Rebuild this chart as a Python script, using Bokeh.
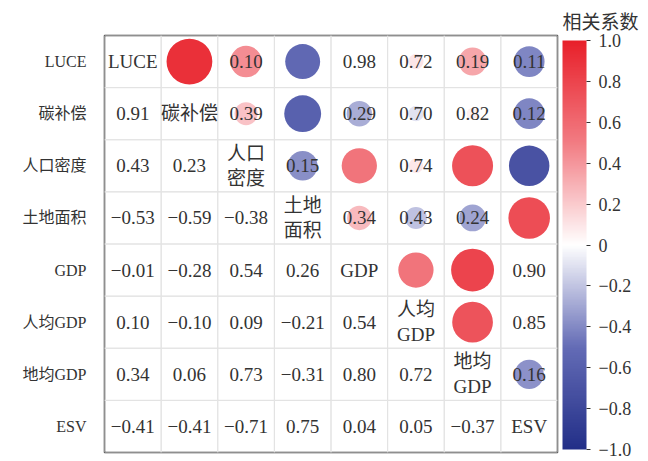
import math
from bokeh.plotting import figure
from bokeh.models import (ColumnDataSource, FactorRange, LinearColorMapper, ColorBar,
                          FixedTicker, Title)
from bokeh.core.properties import value
from bokeh.embed import file_html
from bokeh.resources import INLINE

names = ["LUCE", "碳补偿", "人口密度", "土地面积", "GDP", "人均GDP", "地均GDP", "ESV"]
diag_labels = ["LUCE", "碳补偿", "人口\n密度", "土地\n面积", "GDP", "人均\nGDP", "地均\nGDP", "ESV"]

# lower triangle correlation coefficients: row i holds columns 0..i-1
r_rows = [
    [],
    [0.91],
    [0.43, 0.23],
    [-0.53, -0.59, -0.38],
    [-0.01, -0.28, 0.54, 0.26],
    [0.10, -0.10, 0.09, -0.21, 0.54],
    [0.34, 0.06, 0.73, -0.31, 0.80, 0.72],
    [-0.41, -0.41, -0.71, 0.75, 0.04, 0.05, -0.37],
]
# p-values printed in the upper triangle (None = not printed): row i holds columns i+1..7
p_rows = [
    [None, 0.10, None, 0.98, 0.72, 0.19, 0.11],
    [0.39, None, 0.29, 0.70, 0.82, 0.12],
    [0.15, None, 0.74, None, None],
    [0.34, 0.43, 0.24, None],
    [None, None, 0.90],
    [None, 0.85],
    [0.16],
    [],
]
cbar_ticks = [-1.0, -0.8, -0.6, -0.4, -0.2, 0.0, 0.2, 0.4, 0.6, 0.8, 1.0]
cbar_labels = ["−1.0", "−0.8", "−0.6", "−0.4", "−0.2", "0", "0.2", "0.4", "0.6", "0.8", "1.0"]
cbar_title = "相关系数"

SERIF = "Liberation Serif, Noto Sans CJK SC"
TXT = "#333333"


def fmt(v):
    return f"{v:.2f}".replace("-", "−")


# colour palette: piecewise blue -> white -> red
def hex2rgb(h):
    return tuple(int(h[k:k + 2], 16) for k in (1, 3, 5))


stops = [(-1.0, "#232f88"), (-0.5, "#646cb6"), (0.0, "#ffffff"), (0.5, "#f27c83"), (1.0, "#e8202a")]
palette = []
for i in range(256):
    v = -1 + 2 * i / 255
    for (v0, c0), (v1, c1) in zip(stops[:-1], stops[1:]):
        if v0 <= v <= v1:
            t = (v - v0) / (v1 - v0)
            a, b = hex2rgb(c0), hex2rgb(c1)
            palette.append("#%02x%02x%02x" % tuple(round(a[k] + (b[k] - a[k]) * t) for k in range(3)))
            break
mapper = LinearColorMapper(palette=palette, low=-1, high=1)

# sources
cells = dict(x=[], y=[])
low = dict(x=[], y=[], text=[])
circ = dict(x=[], y=[], r=[], size=[])
ptxt = dict(x=[], y=[], text=[])
for i in range(8):
    for j in range(8):
        cells["x"].append(names[j])
        cells["y"].append(names[i])
for i, row in enumerate(r_rows):
    for j, r in enumerate(row):
        low["x"].append(names[j]); low["y"].append(names[i]); low["text"].append(fmt(r))
        circ["x"].append(names[i]); circ["y"].append(names[j]); circ["r"].append(r)
        circ["size"].append(48 * math.sqrt(abs(r)))
for i, row in enumerate(p_rows):
    for k, pv in enumerate(row):
        if pv is not None:
            ptxt["x"].append(names[i + 1 + k]); ptxt["y"].append(names[i]); ptxt["text"].append(fmt(pv))
diag = dict(x=names, y=names, text=diag_labels)

p = figure(width=648, height=461, output_backend="svg", toolbar_location=None,
           x_range=FactorRange(*names), y_range=FactorRange(*names[::-1]),
           min_border_left=104, min_border_top=35, min_border_bottom=9, min_border_right=91)
p.xaxis.visible = False
p.xgrid.grid_line_color = None
p.ygrid.grid_line_color = None
p.outline_line_color = "#3a3a3a"
p.outline_line_width = 1.5
p.outline_line_alpha = 1

yax = p.yaxis[0]
yax.axis_line_color = None
yax.major_tick_line_color = None
yax.major_tick_out = 0
yax.major_label_standoff = 18
yax.major_label_text_font = SERIF
yax.major_label_text_font_size = "16px"
yax.major_label_text_color = TXT

p.rect(x="x", y="y", width=1, height=1, source=ColumnDataSource(cells),
       fill_color=None, line_color="#e3e3e3", line_width=1)
p.scatter(x="x", y="y", size="size", source=ColumnDataSource(circ),
          fill_color={"field": "r", "transform": mapper}, line_color=None)
for src in (low, ptxt, diag):
    p.text(x="x", y="y", text="text", source=ColumnDataSource(src),
           text_align="center", text_baseline="middle", text_font=value(SERIF),
           text_font_size="19px", text_color=TXT, text_line_height=1.2)

cb = ColorBar(color_mapper=mapper, ticker=FixedTicker(ticks=cbar_ticks),
              major_label_overrides=dict(zip(cbar_ticks, cbar_labels)),
              width=24, height=409, location="top_left", padding=5, margin=0,
              major_label_text_font=SERIF, major_label_text_font_size="18px",
              major_label_text_color=TXT, major_tick_line_color="#333333",
              major_tick_out=4, major_tick_in=0, label_standoff=8,
              bar_line_color=None, border_line_color=None, background_fill_color=None)
p.add_layout(cb, "right")

p.add_layout(Title(text=cbar_title, align="right", offset=-81, standoff=5,
                   text_font=SERIF, text_font_size="19px", text_font_style="normal",
                   text_color=TXT), "above")

open("out.html", "w").write(file_html(p, INLINE))
